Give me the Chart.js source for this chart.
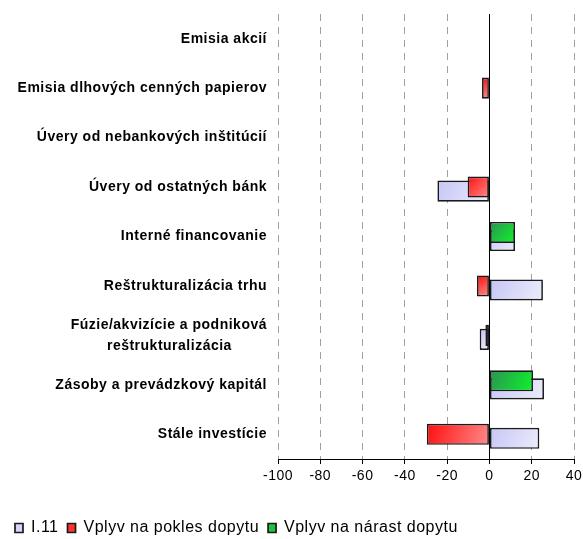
<!DOCTYPE html>
<html>
<head>
<meta charset="utf-8">
<title>Zdroje financovania</title>
<script src="https://cdn.jsdelivr.net/npm/chart.js@4.4.1/dist/chart.umd.min.js"></script>
<style>
  html, body { margin: 0; padding: 0; background: #fff; }
  canvas { display: block; }
</style>
</head>
<body>
<canvas id="barChart" width="583" height="539"></canvas>
<script>
// kategorie (zhora nadol)
var categories = [
  'Emisia akcií',
  'Emisia dlhových cenných papierov',
  'Úvery od nebankových inštitúcií',
  'Úvery od ostatných bánk',
  'Interné financovanie',
  'Reštrukturalizácia trhu',
  ['Fúzie/akvizície a podniková', 'reštrukturalizácia'],
  'Zásoby a prevádzkový kapitál',
  'Stále investície'
];
var seriesNames = ['I.11', 'Vplyv na pokles dopytu', 'Vplyv na nárast dopytu'];
var i11 = [null, null, null, -24.6, 12.1, 25.3, -4.6, 25.8, 23.6];
var pokles = [null, -3.5, null, -10.3, null, -5.9, -1.9, null, -29.6];
var narast = [null, null, null, null, 12.1, null, null, 20.6, null];
var xTicks = [-100, -80, -60, -40, -20, 0, 20, 40];

var fontFamily = '"Liberation Sans", Arial, sans-serif';
var letterGap = '0.5px';

// vycentrovanie riadkov viacriadkoveho popisu (doplnenie nedelitelnymi medzerami)
function centerLines(lines) {
  var c = document.createElement('canvas').getContext('2d');
  c.font = 'bold 14px ' + fontFamily;
  c.letterSpacing = letterGap;
  var widths = lines.map(function (l) { return c.measureText(l).width; });
  var max = Math.max.apply(null, widths);
  var sp = c.measureText('\u00a0').width;
  return lines.map(function (l, k) {
    return l + '\u00a0'.repeat(Math.round((max - widths[k]) / 2 / sp));
  });
}

// riedke pismo ako v povodnom grafe
var spacing = {
  id: 'spacing',
  beforeUpdate: function (chart) { chart.ctx.letterSpacing = letterGap; },
  beforeDraw: function (chart) { chart.ctx.letterSpacing = letterGap; }
};

// prechod farby v kazdom stlpci
var barGradient = {
  id: 'barGradient',
  beforeDatasetDraw: function (chart, args) {
    var ds = chart.data.datasets[args.index];
    var ctx = chart.ctx;
    args.meta.data.forEach(function (bar) {
      var p = bar.getProps(['x', 'y', 'base', 'height'], true);
      if (!isFinite(p.x) || !isFinite(p.base) || !isFinite(p.y) || !isFinite(p.height)) return;
      var left = Math.min(p.x, p.base), right = Math.max(p.x, p.base);
      if (right - left < 0.5) return;
      var g = ctx.createLinearGradient(left, p.y - p.height / 2, right, p.y + p.height / 2);
      g.addColorStop(0, ds.gradient[0]);
      g.addColorStop(1, ds.gradient[1]);
      bar.options = Object.assign({}, bar.options, { backgroundColor: g });
    });
  }
};

var common = {
  borderColor: '#1a1a1a',
  borderWidth: 1.7,
  borderSkipped: false,
  categoryPercentage: 0.244,
  barPercentage: 5.25
};

// poradie: zelena hore, cervena v strede, I.11 dole (kreslena ako prva)
var datasets = [
  Object.assign({ label: seriesNames[2], data: narast, backgroundColor: '#22c23c', gradient: ['#2e9152', '#0cf52a'] }, common),
  Object.assign({ label: seriesNames[1], data: pokles, backgroundColor: '#ff3333', gradient: ['#ff0e0e', '#ff8a8a'] }, common),
  Object.assign({ label: seriesNames[0], data: i11, backgroundColor: '#d6d6f8', gradient: ['#c6c6f6', '#ececfb'] }, common)
];

new Chart(document.getElementById('barChart').getContext('2d'), {
  type: 'bar',
  data: { labels: categories, datasets: datasets },
  plugins: [spacing, barGradient],
  options: {
    indexAxis: 'y',
    responsive: false,
    animation: false,
    layout: { padding: { top: 14, right: 9, bottom: -7, left: 6 } },
    scales: {
      x: {
        type: 'linear',
        min: xTicks[0],
        max: xTicks[xTicks.length - 1],
        afterBuildTicks: function (scale) {
          scale.ticks = xTicks.map(function (v) { return { value: v }; });
        },
        afterFit: function (scale) {
          scale.height = 52;
          scale.paddingLeft = 0;
          scale.paddingRight = 0;
        },
        grid: {
          color: function (c) { return c.tick && c.tick.value === 0 ? '#000' : '#a0a0a0'; },
          lineWidth: 1,
          tickColor: '#000',
          tickLength: 5
        },
        border: {
          color: '#000',
          width: 1,
          dash: function (c) { return c.tick && c.tick.value !== 0 ? [7, 6] : []; }
        },
        ticks: { color: '#000', padding: 4, font: { family: fontFamily, size: 14 } }
      },
      y: {
        afterFit: function (scale) {
          scale.width = 272;
          scale.paddingTop = 0;
          scale.paddingBottom = 0;
        },
        grid: { display: false, drawTicks: false },
        border: { display: false },
        ticks: {
          color: '#000',
          padding: 11,
          font: { family: fontFamily, size: 14, weight: 'bold', lineHeight: 1.47 },
          callback: function (value) {
            var l = this.getLabelForValue(value);
            return Array.isArray(l) ? centerLines(l) : l;
          }
        }
      }
    },
    plugins: {
      tooltip: { enabled: false },
      legend: {
        position: 'bottom',
        align: 'start',
        reverse: true,
        labels: {
          boxWidth: 8,
          boxHeight: 9,
          padding: 9,
          color: '#000',
          font: { family: fontFamily, size: 16 }
        }
      }
    }
  }
});
</script>
</body>
</html>
